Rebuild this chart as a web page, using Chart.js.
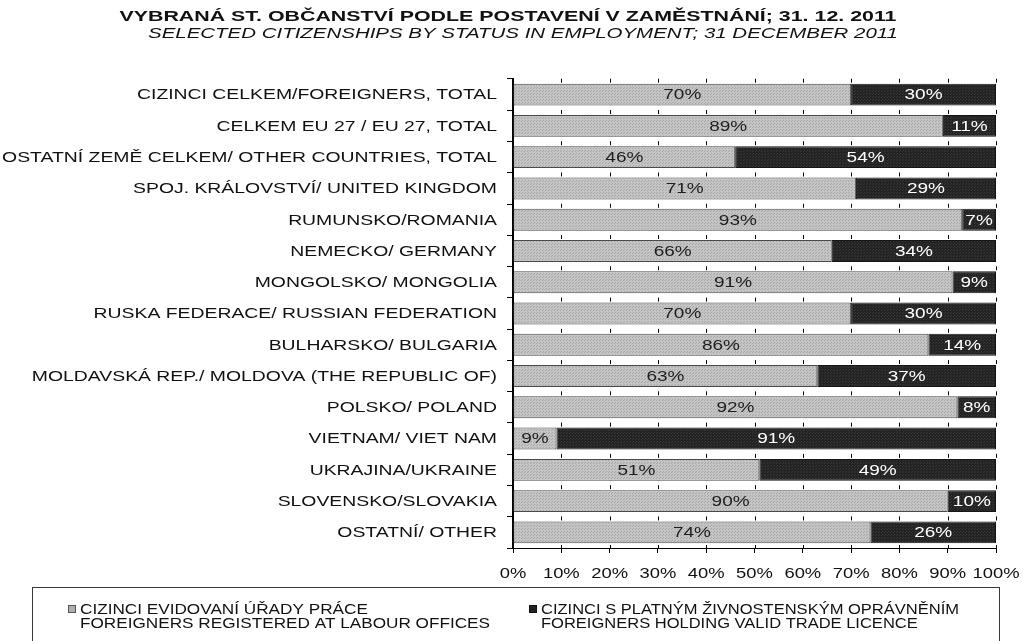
<!DOCTYPE html>
<html>
<head>
<meta charset="utf-8">
<script src="https://cdn.jsdelivr.net/npm/chart.js@4.4.1/dist/chart.umd.min.js"></script>
<style>
  html, body { margin: 0; padding: 0; background: #fff; }
  #wrap { width: 1023px; height: 641px; position: relative; }
</style>
</head>
<body>
<div id="wrap"><canvas id="c" width="1023" height="641"></canvas></div>
<script>
const titleCz = 'VYBRANÁ ST. OBČANSTVÍ PODLE POSTAVENÍ V ZAMĚSTNÁNÍ; 31. 12. 2011';
const titleEn = 'SELECTED CITIZENSHIPS BY STATUS IN EMPLOYMENT; 31 DECEMBER 2011';

const categories = [
  'CIZINCI CELKEM/FOREIGNERS, TOTAL',
  'CELKEM EU 27 / EU 27, TOTAL',
  'OSTATNÍ ZEMĚ CELKEM/ OTHER COUNTRIES, TOTAL',
  'SPOJ. KRÁLOVSTVÍ/ UNITED KINGDOM',
  'RUMUNSKO/ROMANIA',
  'NEMECKO/ GERMANY',
  'MONGOLSKO/ MONGOLIA',
  'RUSKA FEDERACE/ RUSSIAN FEDERATION',
  'BULHARSKO/ BULGARIA',
  'MOLDAVSKÁ REP./ MOLDOVA (THE REPUBLIC OF)',
  'POLSKO/ POLAND',
  'VIETNAM/ VIET NAM',
  'UKRAJINA/UKRAINE',
  'SLOVENSKO/SLOVAKIA',
  'OSTATNÍ/ OTHER'
];

const labourOffices = [70, 89, 46, 71, 93, 66, 91, 70, 86, 63, 92, 9, 51, 90, 74];
const tradeLicence  = [30, 11, 54, 29, 7, 34, 9, 30, 14, 37, 8, 91, 49, 10, 26];

const legendLabourLines = ['CIZINCI EVIDOVANÍ ÚŘADY PRÁCE', 'FOREIGNERS REGISTERED AT LABOUR OFFICES'];
const legendTradeLines  = ['CIZINCI S PLATNÝM ŽIVNOSTENSKÝM OPRÁVNĚNÍM', 'FOREIGNERS HOLDING VALID TRADE LICENCE'];

const FONT = '"Liberation Sans", Arial, sans-serif';

function makePattern(base, dot) {
  const p = document.createElement('canvas');
  p.width = 3; p.height = 3;
  const g = p.getContext('2d');
  g.fillStyle = base; g.fillRect(0, 0, 3, 3);
  g.fillStyle = dot; g.fillRect(0, 0, 1, 1); g.fillRect(2, 1, 1, 1);
  return document.getElementById('c').getContext('2d').createPattern(p, 'repeat');
}
const grayFill = makePattern('#c4c4c4', '#a6a6a6');
const darkFill = makePattern('#232323', '#383838');

// stretched text helper (reference text is horizontally widened)
function stretchText(ctx, text, x, y, font, sx, align, color) {
  ctx.save();
  ctx.font = font;
  ctx.fillStyle = color;
  ctx.textBaseline = 'middle';
  ctx.textAlign = align;
  ctx.translate(x, y);
  ctx.scale(sx, 1);
  ctx.fillText(text, 0, 0);
  ctx.restore();
}
function calib(ctx, font, sample, target) {
  ctx.save(); ctx.font = font;
  const w = ctx.measureText(sample).width;
  ctx.restore();
  return target / w;
}

const decorPlugin = {
  id: 'decor',
  afterDatasetsDraw(chart) {
    const ctx = chart.ctx;
    const xs = chart.scales.x;
    const area = chart.chartArea;
    const meta0 = chart.getDatasetMeta(0);
    ctx.save();
    ctx.strokeStyle = '#000';
    ctx.lineWidth = 1;
    meta0.data.forEach((bar) => {
      const top = bar.y - bar.height / 2;
      xs.ticks.forEach((t) => {
        if (t.value === 0) return;
        const px = Math.round(xs.getPixelForValue(t.value)) + 0.5;
        ctx.beginPath();
        ctx.moveTo(px, top - 5);
        ctx.lineTo(px, top - 1);
        ctx.stroke();
      });
    });
    xs.ticks.forEach((t) => {
      if (t.value === 0) return;
      const px = Math.round(xs.getPixelForValue(t.value)) + 0.5;
      ctx.beginPath();
      ctx.moveTo(px, area.bottom - 3);
      ctx.lineTo(px, area.bottom);
      ctx.stroke();
    });
    ctx.restore();

    const lblFont = '14px ' + FONT;
    const lsx = calib(ctx, lblFont, '70%', 38);
    chart.data.datasets.forEach((ds, di) => {
      const meta = chart.getDatasetMeta(di);
      meta.data.forEach((bar, i) => {
        const v = ds.data[i];
        const cx = (bar.x + bar.base) / 2;
        stretchText(ctx, v + '%', cx, bar.y + 1, lblFont, lsx, 'center', di === 0 ? '#1e1e1e' : '#ffffff');
      });
    });
  },
  afterDraw(chart) {
    const ctx = chart.ctx;
    const xs = chart.scales.x, ys = chart.scales.y;

    const tFont = 'bold 15px ' + FONT;
    const tsx = calib(ctx, tFont, titleCz, 777);
    stretchText(ctx, titleCz, 508, 17, tFont, tsx, 'center', '#111');
    const sFont = 'italic 15px ' + FONT;
    const ssx = calib(ctx, sFont, titleEn, 750);
    stretchText(ctx, titleEn, 523, 34, sFont, ssx, 'center', '#111');

    const cFont = '14px ' + FONT;
    const csx = calib(ctx, cFont, categories[0], 360);
    chart.data.labels.forEach((lab, i) => {
      stretchText(ctx, lab, 497, ys.getPixelForValue(i) + 1, cFont, csx, 'right', '#111');
    });

    const xFont = '14px ' + FONT;
    const xsx = calib(ctx, xFont, '100%', 47);
    xs.ticks.forEach((t) => {
      stretchText(ctx, t.value + '%', xs.getPixelForValue(t.value), 574, xFont, xsx, 'center', '#111');
    });

    ctx.save();
    ctx.strokeStyle = '#3a3a3a';
    ctx.lineWidth = 1;
    ctx.strokeRect(32.5, 587.5, 967, 80);
    ctx.restore();
    const gFont = '14px ' + FONT;
    const gsx1 = calib(ctx, gFont, legendLabourLines[1], 410);
    const gsx2 = calib(ctx, gFont, legendTradeLines[0], 418);
    const items = [
      { x: 68, fill: '#b0b0b0', stroke: '#555', lines: legendLabourLines, sx: gsx1 },
      { x: 529, fill: '#222', stroke: '#111', lines: legendTradeLines, sx: gsx2 }
    ];
    items.forEach((it) => {
      ctx.save();
      ctx.fillStyle = it.fill;
      ctx.strokeStyle = it.stroke;
      ctx.fillRect(it.x, 605, 7, 7);
      ctx.strokeRect(it.x + 0.5, 605.5, 7, 7);
      ctx.restore();
      stretchText(ctx, it.lines[0], it.x + 12, 610, gFont, it.sx, 'left', '#111');
      stretchText(ctx, it.lines[1], it.x + 12, 624, gFont, it.sx, 'left', '#111');
    });
  }
};

new Chart(document.getElementById('c'), {
  type: 'bar',
  data: {
    labels: categories,
    datasets: [
      {
        label: 'CIZINCI EVIDOVANÍ ÚŘADY PRÁCE / FOREIGNERS REGISTERED AT LABOUR OFFICES',
        data: labourOffices,
        backgroundColor: grayFill,
        borderColor: '#4a4a4a',
        borderWidth: 1,
        borderSkipped: false,
        barPercentage: 0.7,
        categoryPercentage: 1.0
      },
      {
        label: 'CIZINCI S PLATNÝM ŽIVNOSTENSKÝM OPRÁVNĚNÍM / FOREIGNERS HOLDING VALID TRADE LICENCE',
        data: tradeLicence,
        backgroundColor: darkFill,
        borderColor: '#151515',
        borderWidth: 1,
        borderSkipped: false,
        barPercentage: 0.7,
        categoryPercentage: 1.0
      }
    ]
  },
  options: {
    indexAxis: 'y',
    responsive: false,
    animation: false,
    devicePixelRatio: 1,
    layout: { padding: { top: 79, right: 27, bottom: 63, left: 0 } },
    plugins: {
      legend: { display: false },
      tooltip: { enabled: false },
      title: { display: false }
    },
    scales: {
      x: {
        stacked: true,
        min: 0,
        max: 100,
        ticks: { stepSize: 10, display: false },
        grid: { drawOnChartArea: false, drawTicks: true, tickLength: 5, color: '#000', lineWidth: 1 },
        border: { display: true, color: '#000', width: 1 },
        afterFit(scale) { scale.height = 30; }
      },
      y: {
        stacked: true,
        ticks: { display: false },
        grid: { drawOnChartArea: false, drawTicks: true, tickLength: 6, color: '#000', lineWidth: 1, offset: true },
        border: { display: true, color: '#000', width: 2 },
        afterFit(scale) { scale.width = 513; }
      }
    }
  },
  plugins: [decorPlugin]
});
</script>
</body>
</html>
